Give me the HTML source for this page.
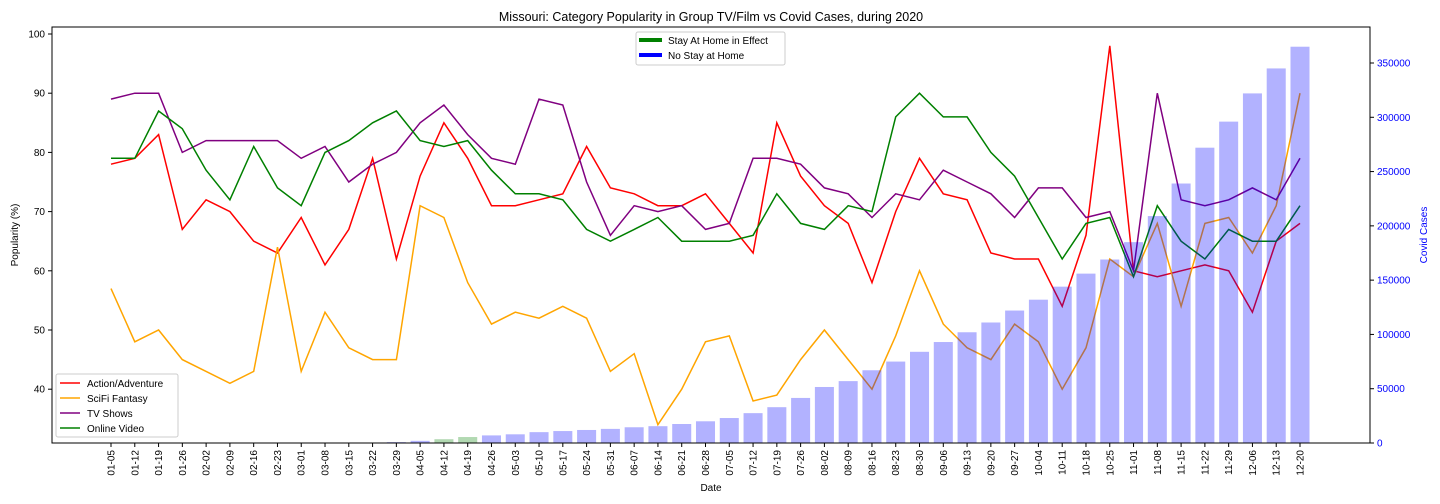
<!DOCTYPE html>
<html><head><meta charset="utf-8"><style>
html,body{margin:0;padding:0;background:#fff;}
svg{display:block;font-family:"Liberation Sans","DejaVu Sans",sans-serif;}
</style></head><body>
<svg id="chart" width="1440" height="504" viewBox="0 0 1440 504" xmlns="http://www.w3.org/2000/svg">
<text x="711" y="21" font-size="12.5" text-anchor="middle">Missouri: Category Popularity in Group TV/Film vs Covid Cases, during 2020</text>
<g id="lines"></g>
<g id="bars"></g>
<g id="axes"></g>
<rect x="52" y="27" width="1318" height="416" fill="none" stroke="#000" stroke-width="1"/>
<text x="711" y="491" font-size="10" text-anchor="middle">Date</text>
<text transform="translate(18,235) rotate(-90)" font-size="10" text-anchor="middle">Popularity (%)</text>
<text transform="translate(1427,235) rotate(-90)" font-size="10" text-anchor="middle" fill="#0000ff">Covid Cases</text>
<g>
<rect x="56" y="374" width="122" height="63" rx="2" fill="#fff" fill-opacity="0.8" stroke="#ccc"/>
<line x1="60" y1="383" x2="80" y2="383" stroke="red" stroke-width="1.5"/><text x="87" y="387" font-size="10">Action/Adventure</text>
<line x1="60" y1="398" x2="80" y2="398" stroke="orange" stroke-width="1.5"/><text x="87" y="402" font-size="10">SciFi Fantasy</text>
<line x1="60" y1="413" x2="80" y2="413" stroke="purple" stroke-width="1.5"/><text x="87" y="417" font-size="10">TV Shows</text>
<line x1="60" y1="428" x2="80" y2="428" stroke="green" stroke-width="1.5"/><text x="87" y="432" font-size="10">Online Video</text>
</g>
<g>
<rect x="636" y="32" width="149" height="33" rx="2" fill="#fff" fill-opacity="0.8" stroke="#ccc"/>
<line x1="639" y1="40" x2="662" y2="40" stroke="green" stroke-width="4"/><text x="668" y="44" font-size="10">Stay At Home in Effect</text>
<line x1="639" y1="55" x2="662" y2="55" stroke="blue" stroke-width="4"/><text x="668" y="59" font-size="10">No Stay at Home</text>
</g>
</svg>
<script>
const dates=["01-05","01-12","01-19","01-26","02-02","02-09","02-16","02-23","03-01","03-08","03-15","03-22","03-29","04-05","04-12","04-19","04-26","05-03","05-10","05-17","05-24","05-31","06-07","06-14","06-21","06-28","07-05","07-12","07-19","07-26","08-02","08-09","08-16","08-23","08-30","09-06","09-13","09-20","09-27","10-04","10-11","10-18","10-25","11-01","11-08","11-15","11-22","11-29","12-06","12-13","12-20"];
const actionAdventure=[78,79,83,67,72,70,65,63,69,61,67,79,62,76,85,79,71,71,72,73,81,74,73,71,71,73,68,63,85,76,71,68,58,70,79,73,72,63,62,62,54,66,98,60,59,60,61,60,53,65,68];
const scifiFantasy=[57,48,50,45,43,41,43,64,43,53,47,45,45,71,69,58,51,53,52,54,52,43,46,34,40,48,49,38,39,45,50,45,40,49,60,51,47,45,51,48,40,47,62,59,68,54,68,69,63,71,90];
const tvShows=[89,90,90,80,82,82,82,82,79,81,75,78,80,85,88,83,79,78,89,88,75,66,71,70,71,67,68,79,79,78,74,73,69,73,72,77,75,73,69,74,74,69,70,60,90,72,71,72,74,72,79];
const onlineVideo=[79,79,87,84,77,72,81,74,71,80,82,85,87,82,81,82,77,73,73,72,67,65,67,69,65,65,65,66,73,68,67,71,70,86,90,86,86,80,76,69,62,68,69,59,71,65,62,67,65,65,71];
const covidCases=[0,0,0,0,0,0,0,0,0,0,0,200,800,2000,3500,5500,7000,8000,10000,11000,12000,13000,14500,15500,17500,20000,23000,27500,33000,41500,51600,57000,67000,75000,84000,93000,102000,111000,122000,132000,144000,156000,169000,185000,209000,239000,272000,296000,322000,345000,365000];
const stayAtHome=[0,0,0,0,0,0,0,0,0,0,0,0,0,0,1,1,0,0,0,0,0,0,0,0,0,0,0,0,0,0,0,0,0,0,0,0,0,0,0,0,0,0,0,0,0,0,0,0,0,0,0];
const popTicks=[40,50,60,70,80,90,100];
const caseTicks=[0,50000,100000,150000,200000,250000,300000,350000];

const NS="http://www.w3.org/2000/svg";
const L=52,R=1370,T=27,B=443;
const x0=111,x1=1300;
function xPos(i){return x0+(x1-x0)*i/(dates.length-1);}
function yPop(v){return 34+(100-v)*5.92;}
function yCases(v){return B-v*(380/350000);}
function mk(tag,attrs,parent){const e=document.createElementNS(NS,tag);for(const k in attrs)e.setAttribute(k,attrs[k]);parent.appendChild(e);return e;}
const gL=document.getElementById('lines'),gB=document.getElementById('bars'),gA=document.getElementById('axes');
const series=[[actionAdventure,'red','action-adventure-line'],[scifiFantasy,'orange','scifi-fantasy-line'],[tvShows,'purple','tv-shows-line'],[onlineVideo,'green','online-video-line']];
series.forEach(s=>{
  const pts=s[0].map((v,i)=>xPos(i).toFixed(1)+','+yPop(v).toFixed(1)).join(' ');
  const p=mk('polyline',{points:pts,fill:'none',stroke:s[1],'stroke-width':1.5},gL);
  
  
});
const bw=(x1-x0)/(dates.length-1)*0.8;
covidCases.forEach((v,i)=>{
  const y=yCases(v);
  const r=mk('rect',{x:xPos(i)-bw/2,y:y,width:bw,height:Math.max(0,B-y),fill:stayAtHome[i]?'green':'blue','fill-opacity':0.3},gB);
  
  
});
dates.forEach((d,i)=>{
  const x=xPos(i);
  mk('line',{x1:x,x2:x,y1:B,y2:B+4,stroke:'#000'},gA);
  const t=mk('text',{transform:`translate(${x+3.5},${B+7}) rotate(-90)`,'font-size':10,'text-anchor':'end'},gA);
  t.textContent=d;
  
  
});
popTicks.forEach(v=>{
  const y=yPop(v);
  mk('line',{x1:L-4,x2:L,y1:y,y2:y,stroke:'#000'},gA);
  const t=mk('text',{x:L-7,y:y+3.5,'font-size':10,'text-anchor':'end'},gA);
  t.textContent=v;
  
  
});
caseTicks.forEach(v=>{
  const y=yCases(v);
  mk('line',{x1:R,x2:R+4,y1:y,y2:y,stroke:'#000'},gA);
  const t=mk('text',{x:R+7,y:y+3.5,'font-size':10,fill:'#0000ff'},gA);
  t.textContent=v;
  
  
});
</script>
</body></html>
